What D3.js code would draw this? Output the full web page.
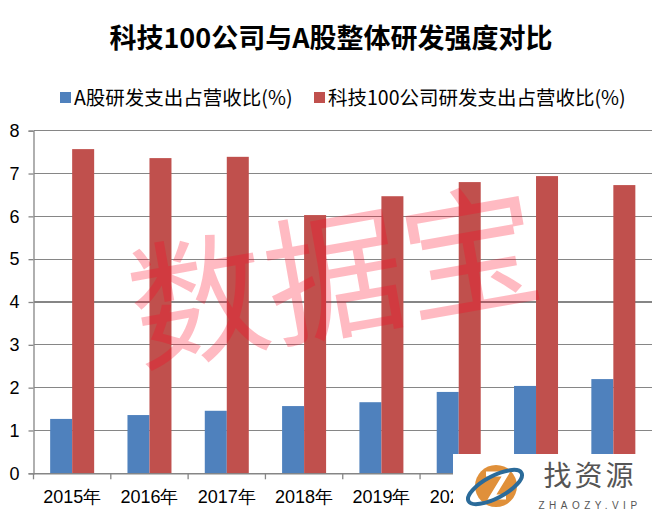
<!DOCTYPE html>
<html><head><meta charset="utf-8">
<script src="https://cdn.jsdelivr.net/npm/d3@7"></script>
<style>html,body{margin:0;padding:0;background:#fff;}svg{display:block;}</style>
</head><body>
<svg id="chart" width="653" height="520"></svg>
<script>
const title = "科技100公司与A股整体研发强度对比";
const categories = ["2015年","2016年","2017年","2018年","2019年","2020年","2021年","2022年"];
const seriesNames = ["A股研发支出占营收比(%)","科技100公司研发支出占营收比(%)"];
const aShare = [1.27,1.36,1.46,1.57,1.66,1.90,2.04,2.20];
const tech100 = [7.57,7.36,7.39,6.03,6.47,6.80,6.94,6.73];
const yTicks = [0,1,2,3,4,5,6,7,8];
const colors = ["#4F81BD","#C0504D"];

const svg = d3.select("#chart");
const pLeft = 33.5, pRight = 652, pTop = 130.7, pBottom = 473.3;
const x0 = d3.scaleBand().domain(categories).range([pLeft,pRight]).padding(0);
const x1 = d3.scaleBand().domain([0,1]).range([0,x0.bandwidth()]).paddingInner(0).paddingOuter(0.757);
const y = d3.scaleLinear().domain([0,8]).range([pBottom,pTop]);
const axisColor = "#868686";
const numFont = "'Liberation Sans', Arial, sans-serif";
const cjkFont = "'Noto Sans CJK SC', sans-serif";

// gridlines
svg.append("g").selectAll("line").data(yTicks).join("line")
  .attr("x1",pLeft).attr("x2",pRight).attr("y1",d=>y(d)).attr("y2",d=>y(d))
  .attr("stroke",axisColor).attr("stroke-width",1.3).attr("shape-rendering","crispEdges");

// bars
const data = categories.map((c,i)=>({c, v:[aShare[i], tech100[i]]}));
const g = svg.append("g");
data.forEach(d=>{
  d.v.forEach((v,k)=>{
    g.append("rect").attr("x",x0(d.c)+x1(k)).attr("width",x1.bandwidth())
      .attr("y",y(v)).attr("height",y(0)-y(v)).attr("fill",colors[k]);
  });
});

// y axis
const ya = svg.append("g").attr("transform",`translate(${pLeft},0)`)
  .call(d3.axisLeft(y).tickValues(yTicks).tickSize(5).tickPadding(8).tickFormat(d3.format("d")));
ya.select(".domain").attr("stroke",axisColor).attr("stroke-width",1.3);
ya.selectAll(".tick line").attr("stroke",axisColor).attr("stroke-width",1.3);
ya.selectAll("text").attr("font-family",numFont).attr("font-size",18).attr("fill","#000").attr("x",-14);

// x axis
const xa = svg.append("g").attr("transform",`translate(0,${pBottom})`)
  .call(d3.axisBottom(x0).tickSize(0).tickPadding(17));
xa.select(".domain").attr("stroke",axisColor).attr("stroke-width",1.3);
xa.selectAll("text").attr("font-family",numFont).attr("font-size",18).attr("fill","#000")
  .attr("dy","0.71em");
// tick marks at band boundaries
svg.append("g").selectAll("line").data(categories.concat(["end"])).join("line")
  .attr("x1",(d,i)=>i<categories.length?x0(d):pRight).attr("x2",(d,i)=>i<categories.length?x0(d):pRight)
  .attr("y1",pBottom).attr("y2",pBottom+6).attr("stroke",axisColor).attr("stroke-width",1.3);

// title
svg.append("text").attr("x",331).attr("y",48).attr("text-anchor","middle")
  .attr("font-family",cjkFont).attr("font-weight","bold").attr("font-size",27).attr("fill","#000").text(title);

// legend
const legX = [60, 314];
seriesNames.forEach((s,k)=>{
  svg.append("rect").attr("x",legX[k]).attr("y",92).attr("width",11).attr("height",11).attr("fill",colors[k]);
  svg.append("text").attr("x",legX[k]+14).attr("y",104.5).attr("font-family",cjkFont)
    .attr("font-size",19.5).attr("fill","#000").text(s);
});

// watermark
svg.append("text").attr("transform","translate(333,268) rotate(-10)")
  .attr("text-anchor","middle").attr("dominant-baseline","central")
  .attr("font-family",cjkFont).attr("font-size",138).attr("fill","rgba(255,0,30,0.27)").text("数据宝");

// logo overlay
const logo = svg.append("g");
logo.append("rect").attr("x",453).attr("y",454).attr("width",200).attr("height",66).attr("fill","#fff");
logo.append("circle").attr("cx",496).attr("cy",486).attr("r",21).attr("fill","#E0903A");
logo.append("path").attr("d","M486,474 L506,474 L492,497 L506,497").attr("stroke","#fff").attr("stroke-width",5).attr("fill","none");
logo.append("ellipse").attr("cx",495).attr("cy",487).attr("rx",30).attr("ry",11)
  .attr("transform","rotate(-28,495,487)").attr("fill","none").attr("stroke","#2B6B9A").attr("stroke-width",4);
logo.append("text").attr("x",590).attr("y",486).attr("text-anchor","middle")
  .attr("font-family",cjkFont).attr("font-size",28).attr("fill","#555").attr("letter-spacing",3).text("找资源");
logo.append("text").attr("x",590).attr("y",509).attr("text-anchor","middle")
  .attr("font-family",numFont).attr("font-size",10).attr("fill","#555").attr("letter-spacing",4.5).text("ZHAOZY.VIP");
</script>
</body></html>
